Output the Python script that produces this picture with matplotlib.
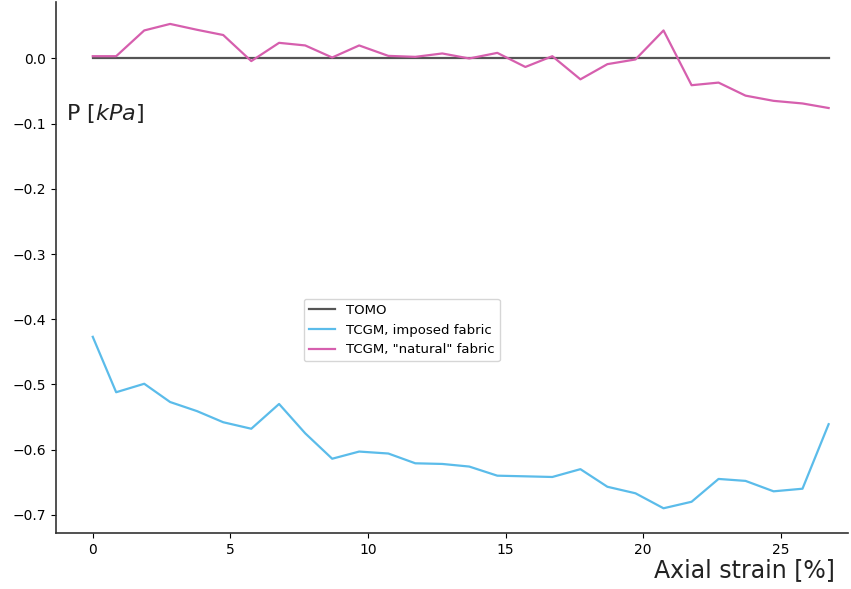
import matplotlib
matplotlib.use("Agg")
import matplotlib.pyplot as plt

# axial strain [%] at each scan step
strain = [0.0, 0.85, 1.87, 2.81, 3.79, 4.74, 5.76, 6.77, 7.72, 8.70,
          9.68, 10.74, 11.72, 12.70, 13.68, 14.70, 15.72, 16.70, 17.72, 18.70,
          19.72, 20.74, 21.76, 22.74, 23.72, 24.74, 25.79, 26.74]

# pressure [kPa]
p_tomo = [0.0] * len(strain)
p_imposed = [-0.427, -0.512, -0.499, -0.527, -0.541, -0.558, -0.568, -0.530, -0.575, -0.614,
             -0.603, -0.606, -0.621, -0.622, -0.626, -0.640, -0.641, -0.642, -0.630, -0.657,
             -0.667, -0.690, -0.680, -0.645, -0.648, -0.664, -0.660, -0.561]
p_natural = [0.0035, 0.0035, 0.043, 0.053, 0.044, 0.036, -0.004, 0.024, 0.020, 0.0015,
             0.020, 0.004, 0.0025, 0.0077, 0.0, 0.0086, -0.013, 0.0035, -0.032, -0.0087,
             -0.0015, 0.043, -0.041, -0.037, -0.057, -0.065, -0.069, -0.076]

fig = plt.figure(figsize=(8.51, 5.89), dpi=100)
ax = fig.add_axes([0.066, 0.095, 0.931, 0.902])

ax.plot(strain, p_tomo, color='#555555', linewidth=1.6, label='TOMO')
ax.plot(strain, p_imposed, color='#5bbcea', linewidth=1.6, label='TCGM, imposed fabric')
ax.plot(strain, p_natural, color='#d65fae', linewidth=1.6, label='TCGM, "natural" fabric')

ax.set_xlim(-1.33, 27.46)
ax.set_ylim(-0.728, 0.087)
ax.set_xticks([0, 5, 10, 15, 20, 25])
ax.set_yticks([0.0, -0.1, -0.2, -0.3, -0.4, -0.5, -0.6, -0.7])

ax.spines['top'].set_visible(False)
ax.spines['right'].set_visible(False)
for s in ('left', 'bottom'):
    ax.spines[s].set_color('#333333')
    ax.spines[s].set_linewidth(1.2)

ax.text(0.012, 0.79, 'P [$kPa$]', transform=ax.transAxes, fontsize=16,
        color='#222222', ha='left', va='center')
fig.text(0.981, 0.012, 'Axial strain [%]', fontsize=17, color='#222222',
         ha='right', va='bottom')

ax.legend(loc='center', bbox_to_anchor=(0.436, 0.382), fontsize=9.5)

fig.savefig('out.png', dpi=100)
